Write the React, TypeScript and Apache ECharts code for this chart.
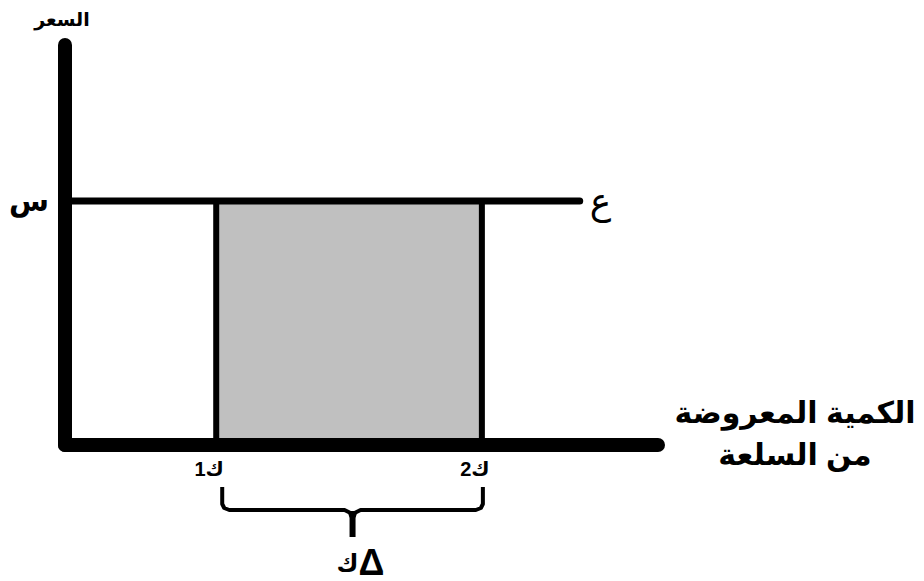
import React, { useEffect, useRef } from "react";
import * as echarts from "echarts";

// Quantities supplied before and after (ك1, ك2) and the fixed price level (س)
const quantityLabels = ["ك1", "ك2"];
const quantities = [25.5, 70.3];
const priceLabel = "س";
const price = 61;
// Horizontal extent of the perfectly elastic supply curve ع
const supplySpan = [0, 86.8];
const supplyLabel = "ع";
const yAxisName = "السعر";
const xAxisName = "الكمية المعروضة\nمن السلعة";

const FONT = "'Liberation Sans', 'DejaVu Sans', Arial, sans-serif";
const X_MAX = 100;

export default function App() {
  const ref = useRef<HTMLDivElement>(null);

  useEffect(() => {
    if (!ref.current) return;
    const chart = echarts.init(ref.current, undefined, { renderer: "svg" });

    const axisLine = {
      show: true,
      lineStyle: { color: "#000", width: 14, cap: "round" as const },
    };

    chart.setOption({
      animation: false,
      backgroundColor: "#fff",
      grid: { left: 65, right: 266, top: 45, bottom: 136, containLabel: false },
      xAxis: {
        type: "value",
        min: 0,
        max: X_MAX,
        z: 10,
        axisLine,
        splitLine: { show: false },
        axisTick: { show: false },
        axisLabel: {
          show: true,
          customValues: quantities,
          formatter: (v: number) => {
            const i = quantities.indexOf(v);
            return i >= 0 ? quantityLabels[i] : "";
          },
          margin: 14,
          padding: [0, 14, 0, 0],
          fontFamily: FONT,
          fontWeight: "bold",
          fontSize: 20,
          color: "#000",
        },
      },
      yAxis: {
        type: "value",
        min: 0,
        max: 100,
        z: 10,
        axisLine,
        splitLine: { show: false },
        axisTick: { show: false },
        name: yAxisName,
        nameLocation: "end",
        nameGap: 16,
        nameTextStyle: {
          fontFamily: FONT,
          fontWeight: "bold",
          fontSize: 19,
          color: "#000",
          align: "center",
          padding: [0, 0, 0, -6],
        },
        axisLabel: {
          show: true,
          customValues: [price],
          formatter: () => priceLabel,
          margin: 16,
          padding: [0, 0, 18, 0],
          fontFamily: FONT,
          fontWeight: "bold",
          fontSize: 29,
          color: "#000",
        },
      },
      series: [
        {
          type: "line",
          symbol: "none",
          z: 5,
          data: [
            [supplySpan[0], price],
            [supplySpan[1], price],
          ],
          lineStyle: { color: "#000", width: 7, cap: "round" },
          endLabel: {
            show: true,
            formatter: supplyLabel,
            distance: 10,
            fontFamily: FONT,
            fontSize: 36,
            color: "#000",
            padding: [0, 0, 4, 0],
          },
          markArea: {
            silent: true,
            itemStyle: { color: "#c0c0c0", borderColor: "#000", borderWidth: 6 },
            data: [[{ coord: [quantities[0], 0] }, { coord: [quantities[1], price] }]],
          },
        },
      ],
    });

    // Brace under the quantity change and the quantity-axis title, anchored to the axis scale
    const toX = (v: number) => chart.convertToPixel({ xAxisIndex: 0 }, v) as number;
    const axisY = chart.convertToPixel({ yAxisIndex: 0 }, 0) as number;
    const x1 = toX(quantities[0]) + 6;
    const x2 = toX(quantities[1]) + 1;
    const xm = (x1 + x2) / 2;
    const yTop = 487;
    const yBar = 510;
    chart.setOption({
      graphic: [
        {
          type: "text",
          x: toX(X_MAX) + 137,
          y: axisY - 12,
          style: {
            text: xAxisName,
            fontFamily: FONT,
            fontWeight: "bold",
            fontSize: 30,
            lineHeight: 42,
            fill: "#000",
            align: "center",
            verticalAlign: "middle",
          },
        },
        {
          type: "polyline",
          shape: {
            points: [
              [x1, yTop],
              [x1, yBar - 6],
              [x1 + 2, yBar - 2],
              [x1 + 7, yBar],
              [xm - 8, yBar],
              [xm - 2, yBar + 3],
              [xm, yBar + 6],
              [xm + 2, yBar + 3],
              [xm + 8, yBar],
              [x2 - 7, yBar],
              [x2 - 2, yBar - 2],
              [x2, yBar - 6],
              [x2, yTop],
            ],
          },
          style: { stroke: "#000", lineWidth: 4, fill: null, lineJoin: "round" },
        },
        {
          type: "polygon",
          shape: {
            points: [
              [xm - 5, yBar + 1],
              [xm + 5, yBar + 1],
              [xm + 3, yBar + 8],
              [xm + 3, yBar + 27],
              [xm - 3, yBar + 27],
              [xm - 3, yBar + 8],
            ],
          },
          style: { fill: "#000" },
        },
        {
          type: "text",
          x: xm + 8,
          y: 562,
          style: {
            text: "{k|ك}{d|Δ}",
            fontFamily: FONT,
            fontWeight: "bold",
            fill: "#000",
            align: "center",
            verticalAlign: "middle",
            rich: {
              k: { fontFamily: FONT, fontWeight: "bold", fontSize: 24, fill: "#000" },
              d: { fontFamily: FONT, fontWeight: "bold", fontSize: 36, fill: "#000" },
            },
          },
        },
      ],
    });

    return () => chart.dispose();
  }, []);

  return (
    <div
      ref={ref}
      style={{ position: "fixed", left: 0, top: 0, width: 924, height: 581 }}
    />
  );
}
